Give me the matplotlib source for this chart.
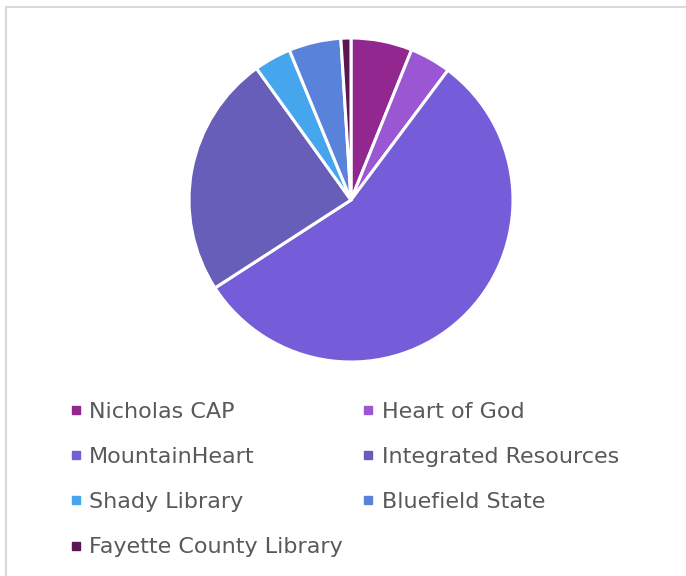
import matplotlib
matplotlib.use("Agg")
import matplotlib.pyplot as plt
from matplotlib.patches import Rectangle
from matplotlib.lines import Line2D

labels = ["Nicholas CAP", "Heart of God", "MountainHeart", "Integrated Resources",
          "Shady Library", "Bluefield State", "Fayette County Library"]
shares = [6.1, 4.1, 55.6, 24.2, 3.7, 5.2, 1.0]
colors = ["#92278F", "#9B57D3", "#755DD9", "#665EB8", "#45A5ED", "#5982DB", "#5B1653"]

W, H = 686, 576
fig = plt.figure(figsize=(W / 100, H / 100), dpi=100)

# chart frame (only top/left visible in the crop)
fig.patches.append(Rectangle((6 / W, -0.1), 1.2, 1 - 6.5 / H + 0.1, transform=fig.transFigure,
                             fill=False, edgecolor="#D9D9D9", linewidth=1.5))

cx, cy, r = 351, 200, 162
ax = fig.add_axes([(cx - r) / W, 1 - (cy + r) / H, 2 * r / W, 2 * r / H])
ax.pie(shares, colors=colors, startangle=90, counterclock=False, radius=1,
       wedgeprops=dict(edgecolor="white", linewidth=2.2))
ax.set_xlim(-1, 1)
ax.set_ylim(-1, 1)
ax.set_aspect("equal")
ax.axis("off")

handles = [Line2D([], [], marker="s", linestyle="none", markersize=6,
                  markerfacecolor=c, markeredgecolor=c) for c in colors]
order = [0, 2, 4, 6, 1, 3, 5]
leg = fig.legend([handles[i] for i in order], [labels[i] for i in order],
                 ncol=2, loc="upper left", bbox_to_anchor=(70 / W, 1 - 402 / H),
                 frameon=False, fontsize=16, handlelength=0.5, handletextpad=0.35,
                 columnspacing=0.9, labelspacing=1.13, borderaxespad=0, borderpad=0)
for t in leg.get_texts():
    t.set_color("#595959")

fig.savefig("out.png", dpi=100)
